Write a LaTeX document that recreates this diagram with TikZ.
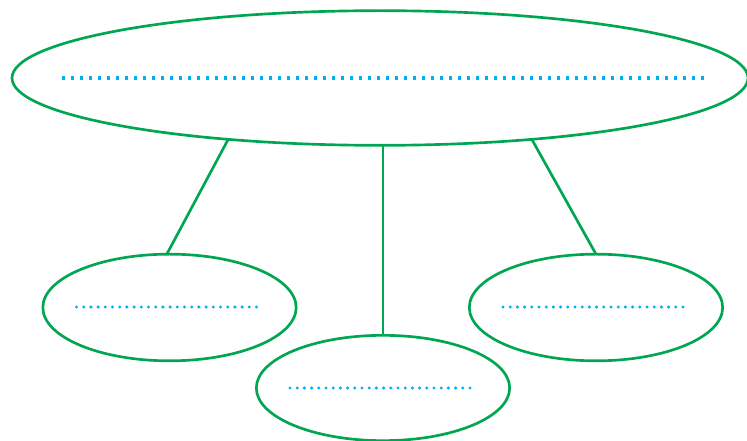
\documentclass[tikz,border=0pt]{standalone}
\usetikzlibrary{shapes.geometric}
\definecolor{eg}{RGB}{0,166,81}
\definecolor{cy}{RGB}{0,176,240}
\begin{document}
\begin{tikzpicture}[x=0.75pt,y=-0.75pt,
  oval/.style={ellipse,draw=eg,line width=2pt,inner sep=0pt,outer sep=0pt},
  link/.style={draw=eg,line width=2pt},
  bigdots/.style={draw=cy,line width=2.3pt,dash pattern=on 2.3pt off 4.45pt},
  smalldots/.style={draw=cy,line width=2.5pt,line cap=round,dash pattern=on 0pt off 5.4pt}]
\useasboundingbox (0,0) rectangle (747,441);
\node[oval,minimum width=552pt,minimum height=101pt] (top) at (380,78) {};
\node[oval,minimum width=190pt,minimum height=80pt] (left) at (169.5,307.5) {};
\node[oval,minimum width=190pt,minimum height=80pt] (right) at (596,307.5) {};
\node[oval,minimum width=190pt,minimum height=79pt] (bottom) at (383,388) {};
\draw[link] (top.202.5) -- ([xshift=-2pt]left.north);
\draw[link] (bottom.north |- top.south) -- (bottom.north);
\draw[link] (top.338) -- (right.north);
\draw[bigdots] ([xshift=-318*0.75pt]top.center) -- ([xshift=327*0.75pt]top.center);
\draw[smalldots] ([xshift=-93*0.75pt,yshift=0.5*0.75pt]left.center) -- ([xshift=93*0.75pt,yshift=0.5*0.75pt]left.center);
\draw[smalldots] ([xshift=-93*0.75pt,yshift=0.5*0.75pt]right.center) -- ([xshift=93*0.75pt,yshift=0.5*0.75pt]right.center);
\draw[smalldots] ([xshift=-93*0.75pt]bottom.center) -- ([xshift=93*0.75pt]bottom.center);
\end{tikzpicture}
\end{document}
